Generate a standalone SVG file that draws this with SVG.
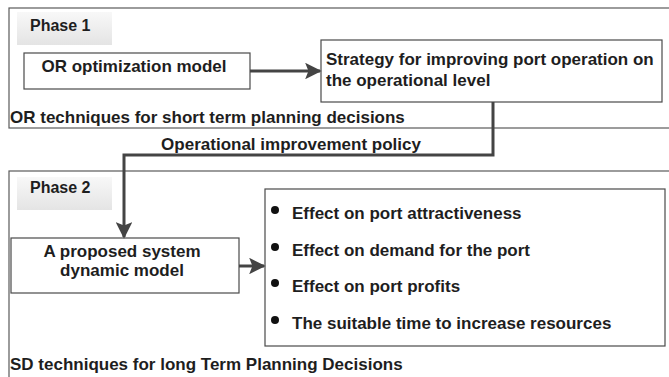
<svg xmlns="http://www.w3.org/2000/svg" width="669" height="377" viewBox="0 0 669 377">
<style>
text{font-family:"Liberation Sans",Arial,sans-serif;font-weight:bold;font-size:17px;fill:#1e1e1e}
.ph{font-size:16px}
.frame{fill:#fff;stroke:#5a5a5a;stroke-width:1.2}
.box{fill:#fff;stroke:#4a4a4a;stroke-width:1.2}
.tab{fill:url(#tabg);stroke:none}
.conn{fill:none;stroke:#444;stroke-width:3}
</style>
<defs>
<linearGradient id="tabg" x1="0" y1="0" x2="0" y2="1">
<stop offset="0" stop-color="#f8f8f8"/>
<stop offset="1" stop-color="#e4e4e4"/>
</linearGradient>
<marker id="ah" viewBox="0 0 10 10" refX="9" refY="5" markerWidth="5.5" markerHeight="5.5" orient="auto" markerUnits="strokeWidth">
<path d="M0,0 L10,5 L0,10 L2,5 z" fill="#444"/>
</marker>
</defs>
<rect width="669" height="377" fill="#fff"/>
<g id="phase1">
<rect class="frame" x="9" y="8" width="664" height="120"/>
<rect class="tab" x="17" y="12" width="95" height="33"/>
<text class="ph" x="30" y="31">Phase 1</text>
<text x="10" y="123">OR techniques for short term planning decisions</text>
</g>
<g id="or-model">
<rect class="box" x="24" y="53" width="226" height="36"/>
<text x="134" y="72" text-anchor="middle">OR optimization model</text>
</g>
<g id="strategy">
<rect class="box" x="321" y="40" width="341" height="62"/>
<text x="326" y="65">Strategy for improving port operation on</text>
<text x="326" y="86">the operational level</text>
</g>
<g id="phase2">
<rect class="frame" x="9" y="171" width="664" height="215"/>
<rect class="tab" x="17" y="177" width="95" height="33"/>
<text class="ph" x="30" y="193">Phase 2</text>
<text x="10" y="370">SD techniques for long Term Planning Decisions</text>
</g>
<g id="sd-model">
<rect class="box" x="11" y="238" width="228" height="55"/>
<text x="122" y="257" text-anchor="middle">A proposed system</text>
<text x="122" y="276" text-anchor="middle">dynamic model</text>
</g>
<g id="effects">
<rect class="box" x="265" y="189" width="400" height="157"/>
<circle cx="275" cy="210" r="4" fill="#111"/>
<text x="292" y="219">Effect on port attractiveness</text>
<circle cx="275" cy="247" r="4" fill="#111"/>
<text x="292" y="256">Effect on demand for the port</text>
<circle cx="275" cy="283" r="4" fill="#111"/>
<text x="292" y="292">Effect on port profits</text>
<circle cx="275" cy="320" r="4" fill="#111"/>
<text x="292" y="329">The suitable time to increase resources</text>
</g>
<g id="connectors">
<line class="conn" x1="250" y1="71" x2="320" y2="71" marker-end="url(#ah)"/>
<polyline class="conn" points="493,102 493,155 124,155 124,237" marker-end="url(#ah)"/>
<text x="291" y="150" text-anchor="middle">Operational improvement policy</text>
<line class="conn" x1="239" y1="266" x2="264" y2="266" marker-end="url(#ah)"/>
</g>
</svg>
